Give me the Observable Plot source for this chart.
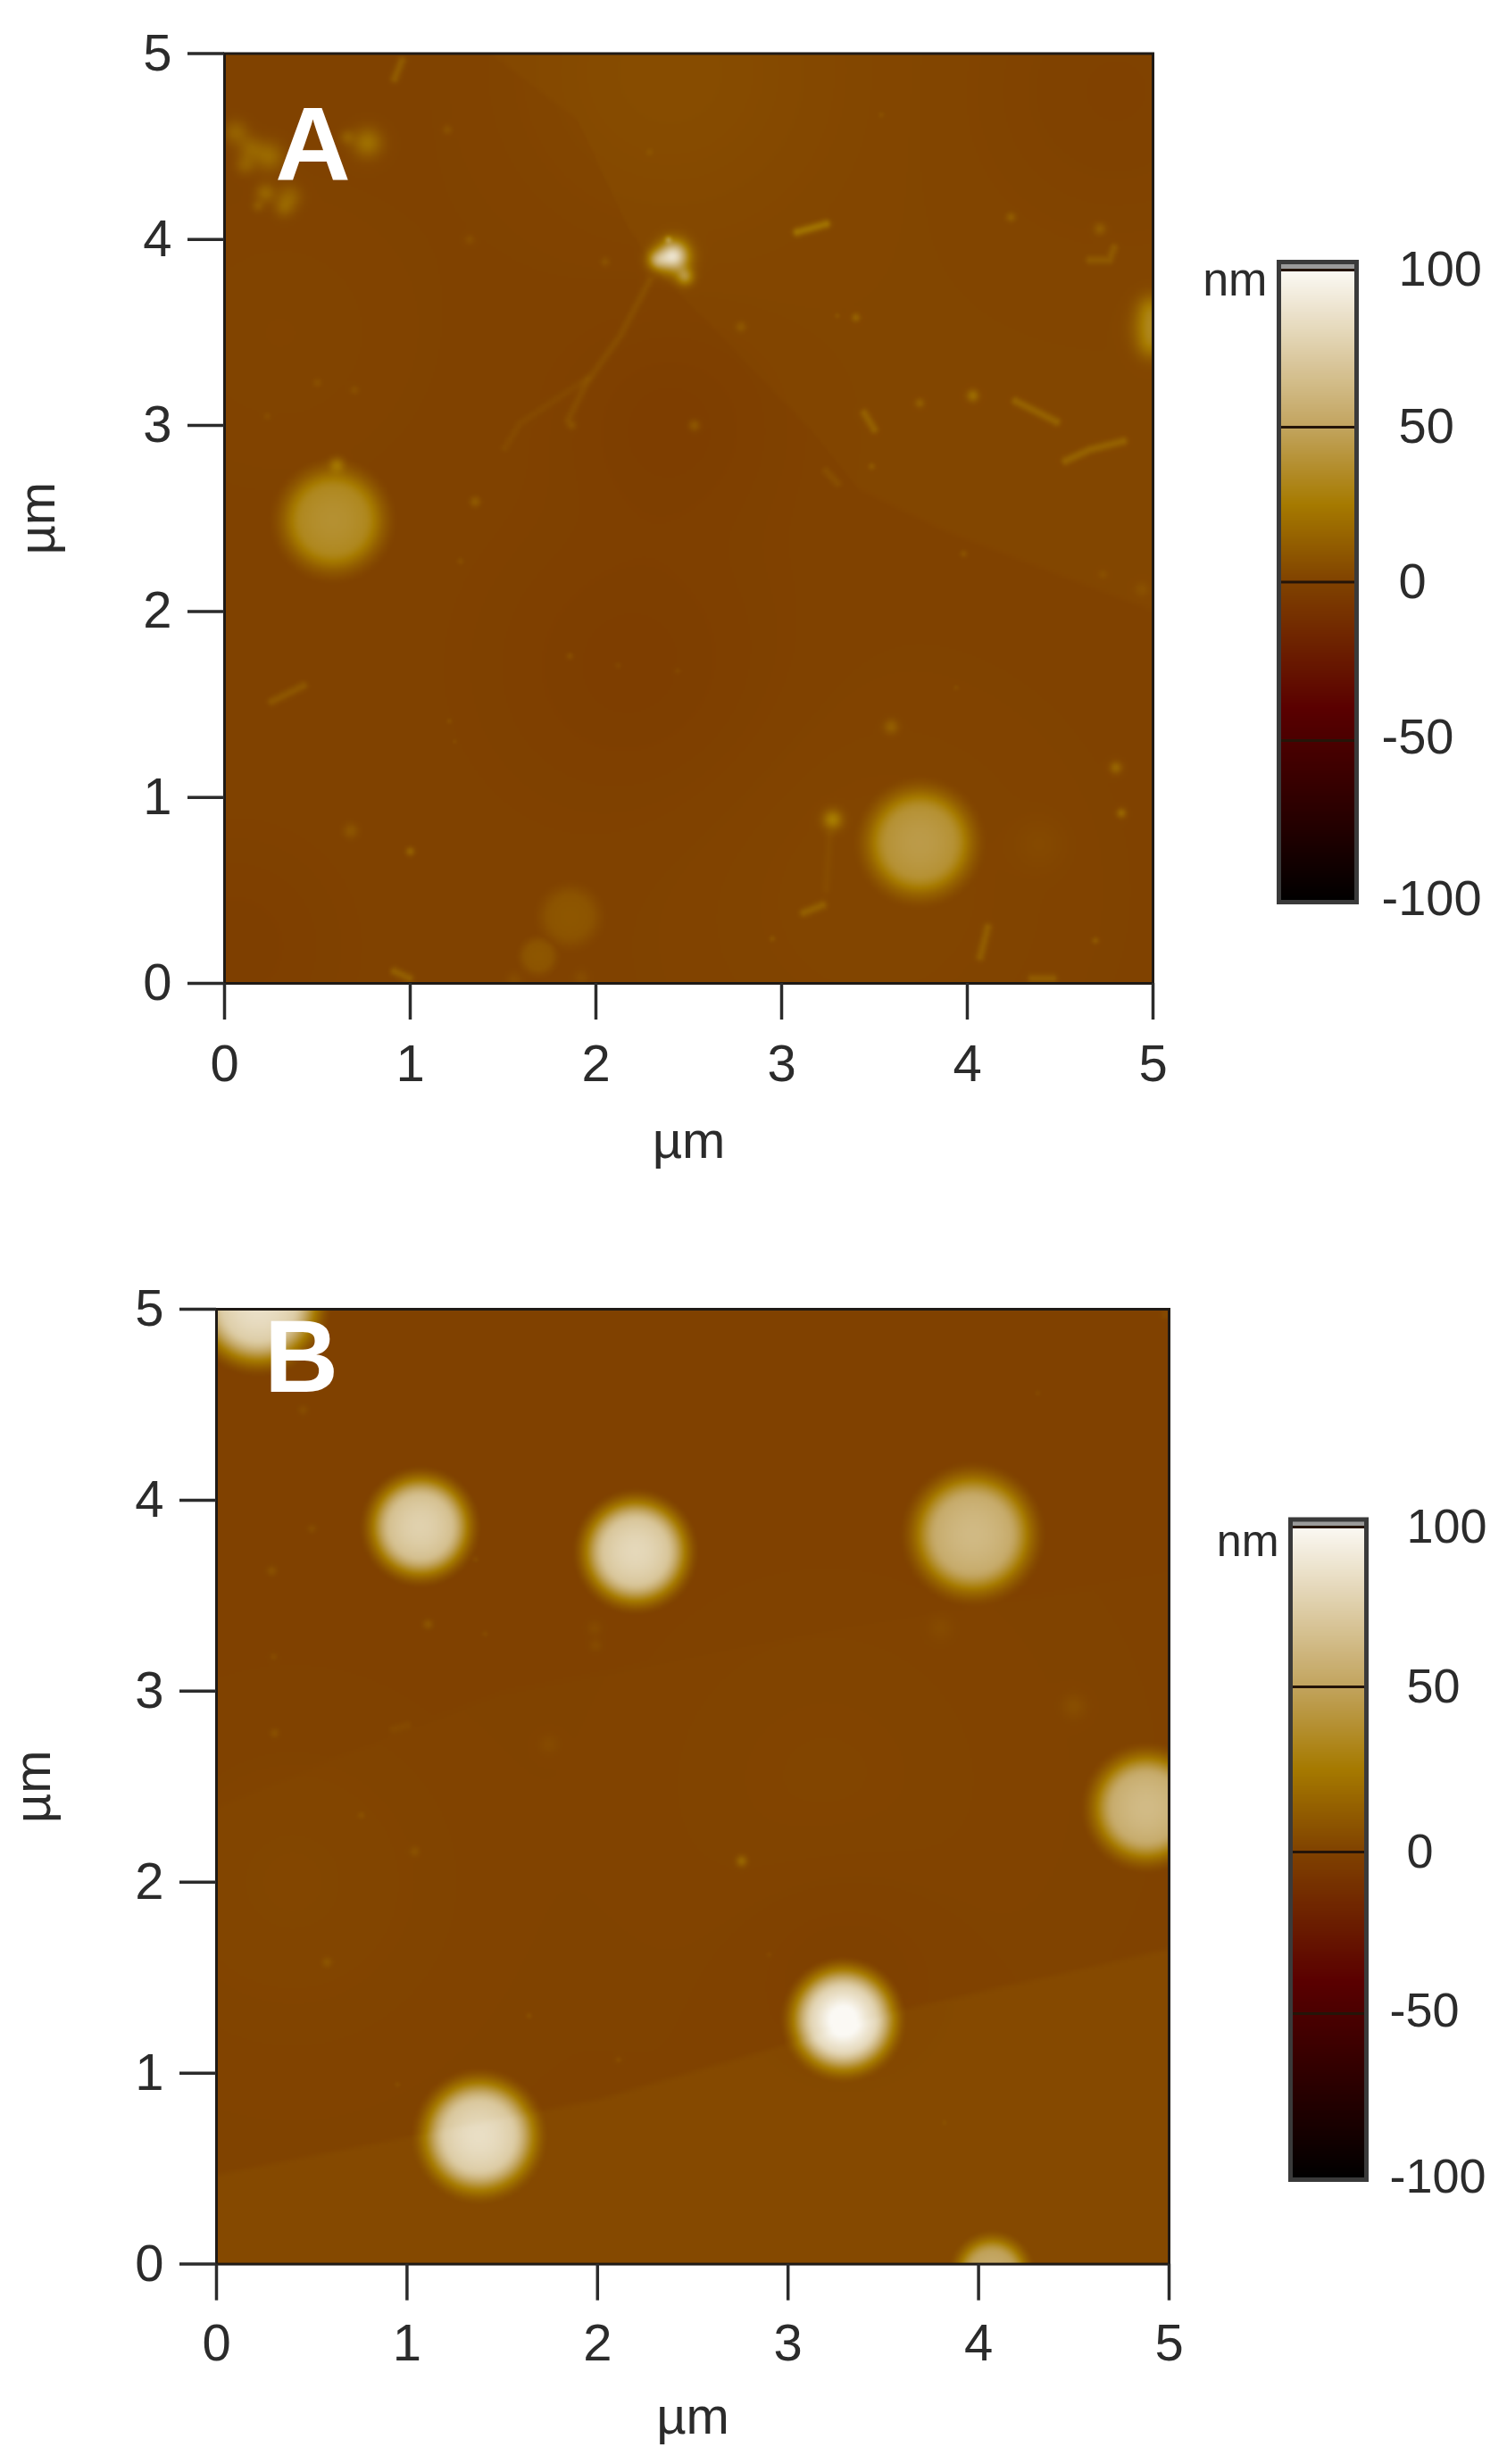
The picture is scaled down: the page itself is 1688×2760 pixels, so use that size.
<!DOCTYPE html>
<html><head><meta charset="utf-8">
<script src="https://cdn.jsdelivr.net/npm/d3@7"></script>
<script src="https://cdn.jsdelivr.net/npm/@observablehq/plot@0.6"></script>
<style>
html,body{margin:0;padding:0;background:#fff}
#page{position:relative;width:1688px;height:2760px;overflow:hidden}
#page svg{position:absolute;filter:blur(.6px)}
</style></head><body><div id="page"></div>
<script>
// Axis ticks (µm) and colour-bar ticks (nm)
const micronTicks = [0,1,2,3,4,5];
const nmTicks = [100,50,0,-50,-100];
// Colour map
const colorDomain = [-100,-40,0,25,50,100];
const colorRange = ["#000000","#5a0000","#804200","#a67a00","#c2a45e","#fbf9f4"];

// Panel A: large discs [x, y, radius, height nm]
const discsA = [[0.585,2.49,0.27,38],[3.745,0.757,0.28,43],[1.86,0.36,0.16,9],[1.69,0.146,0.1,9]];
// Panel A: small specks [x, y, radius, height nm]
const specksA = [
[.06,4.576,.05,16],[.14,4.49,.05,15],[.24,4.447,.06,20],[.11,4.40,.04,13],[.22,4.25,.04,17],[.35,4.23,.05,15],[.32,4.17,.04,13],[.18,4.18,.025,10],
[.77,4.52,.06,24],[.66,4.55,.03,12],[1.2,4.59,.02,7],
[2.417,3.91,.06,100],[2.33,3.89,.04,45],[2.48,3.80,.035,40],[2.39,4.0,.015,25],
[.605,2.79,.03,20],[1.35,2.59,.022,12],[2.53,3.0,.025,13],[1.87,3.0,.02,8],[2.78,3.53,.022,9],[1.32,4.0,.02,6],[2.05,3.88,.02,7],[2.29,4.47,.015,5],
[.5,3.23,.018,6],[.7,3.19,.018,6],[.23,3.05,.015,5],[1.27,2.27,.015,6],
[4.235,4.12,.02,12],[4.714,4.057,.025,12],[3.40,3.58,.018,14],[3.30,3.59,.012,6],[3.744,3.12,.02,12],[4.03,3.16,.025,20],[3.485,2.78,.015,9],[3.537,4.67,.012,5],
[3.59,1.38,.03,14],[4.8,1.16,.025,18],[4.83,.915,.02,18],[4.39,.75,.1,3],[1.86,1.76,.016,8],[2.12,1.71,.015,5],[1.21,1.41,.012,6],[1.24,1.30,.01,5],
[.68,.82,.03,10],[1.0,.709,.018,16],[1.56,.02,.03,5],[1.92,.03,.03,5],[4.69,.23,.015,10],[2.95,.24,.012,8],[3.98,2.31,.015,8],[3.94,1.59,.012,5],[2.44,1.68,.015,5],[4.73,2.2,.02,5],[4.94,2.12,.03,6],
[4.99,3.53,.07,30],[4.99,3.43,.06,22],[4.99,3.63,.06,22],[3.275,.88,.04,30]
];
// Panel A: thin fibres [height nm, points...]
const fibersA = [
[12,[.955,4.96],[.916,4.865]],
[6,[2.29,3.78],[2.13,3.48],[1.95,3.23],[1.85,3.03]],
[4,[1.95,3.25],[1.59,3.01],[1.51,2.88]],
[22,[3.084,4.04],[3.24,4.083]],
[10,[4.66,3.89],[4.765,3.89],[4.79,3.955]],
[13,[3.446,3.065],[3.498,2.98]],
[14,[4.261,3.13],[4.48,3.02]],
[14,[4.53,2.81],[4.66,2.87],[4.84,2.915]],
[6,[3.24,2.755],[3.30,2.69]],
[10,[.256,1.516],[.424,1.60]],
[14,[.916,.064],[.994,.028]],
[3,[3.26,.8],[3.24,.51]],
[13,[3.12,.38],[3.22,.42]],
[12,[4.07,.144],[4.11,.30]],
[12,[4.35,.025],[4.46,.025]]
];
// Panel A: terrace edge; the far side is raised
const stepA = [[1.43,5],[1.9,4.64],[2.18,4.05],[2.36,3.8],[2.85,3.29],[3.16,2.97],[3.42,2.65],[3.88,2.43],[4.53,2.18],[5,2.0]];
// Panel A: broad shading [x, y, radius, offset nm]
const patchesA = [[2.4,4.9,.8,3],[4.8,4.8,.7,-2],[2.4,3.0,.5,-2.5],[2.2,1.7,.7,-2.5],[.05,.2,.5,-2],[3.5,.5,1,1.5],[.3,3.5,.7,1]];

// Panel B
const discsB = [[1.07,3.86,.25,77],[2.2,3.73,.26,81],[3.97,3.82,.3,63],[4.88,2.39,.27,63],[3.29,1.28,.26,88],[1.38,.67,.28,81],[.22,5.03,.3,86],[4.07,-.05,.18,52]];
const specksB = [
[.454,4.47,.02,6],[.5,3.85,.018,6],[.29,3.63,.02,8],[1.11,3.35,.02,10],[1.41,3.3,.012,5],[1.985,3.33,.03,5],[1.99,3.24,.025,5],[.3,3.18,.015,5],[.305,2.78,.018,7],
[1.745,2.72,.04,4],[.76,2.35,.015,6],[1.04,2.16,.02,7],[1.36,3.69,.012,5],[2.756,2.11,.022,18],[.58,1.58,.02,8],[4.5,2.92,.05,6],[3.8,3.33,.05,4],[4.31,4.56,.012,4],
[3.82,.74,.01,4],[4.98,4.97,.02,5],[1.64,1.30,.012,6],[2.11,1.07,.012,6],[.95,.94,.012,5],[2.9,1.62,.012,4],[3.29,1.28,.09,25]
];
const fibersB = [[4,[.93,2.8],[1.0,2.82]]];
const stepB = [[0,.47],[2,.86],[3.63,1.34],[5,1.65]];
const stepB2 = [[0,2.4],[1.5,3.0],[3.5,3.37],[5,3.62]];
const patchesB = [[3.3,1.55,.5,-1.5],[3.2,2.5,.9,1],[.4,2,.8,1.5]];

const smooth = (a,b,v)=>{const t=Math.max(0,Math.min(1,(v-a)/(b-a)));return t*t*(3-2*t);};
const lineY = (pts,x)=>{
  for(let i=1;i<pts.length;i++) if(x<=pts[i][0]){
    const [a,b]=pts[i-1],[c,d]=pts[i];return b+(d-b)*(x-a)/(c-a);}
  return pts[pts.length-1][1];
};
const segDist=(x,y,a,b)=>{
  const dx=b[0]-a[0],dy=b[1]-a[1];
  const t=Math.max(0,Math.min(1,((x-a[0])*dx+(y-a[1])*dy)/(dx*dx+dy*dy)));
  return Math.hypot(x-a[0]-t*dx,y-a[1]-t*dy);
};
function surface(s){
  return (x,y)=>{
    let z=s.base;
    for(const [st,h,sign] of s.steps) z+=h*smooth(-.025,.025,sign*(y-lineY(st,x)));
    for(const [a,b,r,h] of s.patches){const d=((x-a)**2+(y-b)**2)/(r*r);z+=h*Math.exp(-d);}
    let top=0;
    for(const [a,b,r,h] of s.discs){
      if(Math.abs(x-a)>r*1.5||Math.abs(y-b)>r*1.5) continue;
      const t=Math.hypot(x-a,y-b)/r;
      top=Math.max(top,h*(.7+.3*(1-Math.min(t*t,1)))*smooth(1.32,.62,t));
    }
    for(const [a,b,r0,h0] of s.specks){
      const r=r0*1.3,h=h0*.82;
      if(Math.abs(x-a)>r*3||Math.abs(y-b)>r*3) continue;
      z+=h*Math.exp(-((x-a)**2+(y-b)**2)/(r*r));
    }
    for(const [h,...pts] of s.fibers){
      let d=1e9;
      for(let i=1;i<pts.length;i++) d=Math.min(d,segDist(x,y,pts[i-1],pts[i]));
      if(d<.08) z+=h*.85*Math.exp(-(d*d)/(.024*.024));
    }
    return z+top;
  };
}

const colorScale = {type:"linear",domain:colorDomain,range:colorRange,clamp:true};
const font = "'Liberation Sans',Arial,sans-serif";
const ink = "#2b2b2b";

function heightMap(o){
  const g=document.getElementById("page");
  const p=Plot.plot({
    width:o.width,height:o.height,
    marginLeft:o.left,marginRight:o.right,marginTop:o.top,marginBottom:o.bottom,
    style:{fontFamily:font,background:"transparent",overflow:"visible"},
    x:{domain:[0,5]},y:{domain:[0,5]},color:colorScale,
    marks:[
      Plot.raster({x1:0,y1:0,x2:5,y2:5,fill:surface(o.surface),pixelSize:2}),
      Plot.frame({stroke:"#1f1a16",strokeWidth:3}),
      Plot.axisX(micronTicks,{anchor:"bottom",tickSize:41,tickPadding:o.xpad,fontSize:o.fs,strokeWidth:3.5,color:ink,
        tickFormat:d=>String(d),label:"µm",labelAnchor:"center",labelArrow:"none",labelOffset:o.xlabOff}),
      Plot.axisY(micronTicks,{anchor:"left",tickSize:41,tickPadding:o.ypad,fontSize:o.fs,strokeWidth:3.5,color:ink,
        tickFormat:d=>String(d),label:"µm",labelAnchor:"center",labelArrow:"none",labelOffset:o.ylabOff}),
      Plot.text([o.letter],{x:o.lx,y:o.ly,text:d=>d,fill:"#fff",fontSize:o.lfs,fontWeight:"bold",fontFamily:font})
    ]
  });
  p.style.left=o.x+"px";p.style.top=o.y+"px";
  g.appendChild(p);
}

function colorBar(o){
  const g=document.getElementById("page");
  const toLocal=o.stops.map(v=>v-o.y);
  const p=Plot.plot({
    width:o.width,height:o.height,marginLeft:o.left,marginRight:o.right,
    marginTop:toLocal[5],marginBottom:o.height-toLocal[0],
    style:{fontFamily:font,background:"transparent",overflow:"visible"},
    x:{domain:[0,1],axis:null},
    y:{type:"linear",domain:[-100,-50,0,50,100,104],range:toLocal,axis:null},
    color:colorScale,
    marks:[
      Plot.rect([0],{x1:0,x2:1,y1:100,y2:104,fill:"#9a9a9a"}),
      Plot.raster({x1:0,x2:1,y1:-100,y2:100,fill:(x,y)=>y,pixelSize:2}),
      Plot.ruleY(nmTicks.filter(d=>d>-100),{x1:0,x2:1,stroke:"#241408",strokeWidth:3}),
      Plot.frame({stroke:"#3a3a3a",strokeWidth:5}),
      Plot.text(nmTicks.filter(d=>d>=0),{x:1,y:d=>d,text:d=>String(d),textAnchor:"start",dx:o.labx,dy:0,fontSize:o.fs,fill:ink}),
      Plot.text(nmTicks.filter(d=>d<0),{x:1,y:d=>d,text:d=>String(d),textAnchor:"start",dx:o.labx-19,dy:-3,fontSize:o.fs,fill:ink}),
      Plot.text(["nm"],{x:0,y:o.nmY,text:d=>d,textAnchor:"end",dx:-13,fontSize:o.fs*.93,fill:ink})
    ]
  });
  p.style.left=o.x+"px";p.style.top=o.y+"px";
  g.appendChild(p);
}

heightMap({x:0,y:0,width:1320,height:1340,left:251,right:29,top:59.5,bottom:239,fs:58,xpad:27,ypad:18,xlabOff:195,ylabOff:232,
  letter:"A",lx:.476,ly:4.5,lfs:117,
  surface:{base:0,steps:[[stepA,1.6,1]],patches:patchesA,discs:discsA,specks:specksA,fibers:fibersA}});
heightMap({x:0,y:1400,width:1340,height:1360,left:242,right:31,top:66,bottom:224.4,fs:58,xpad:26,ypad:18,xlabOff:190,ylabOff:228,
  letter:"B",lx:.445,ly:4.74,lfs:115,
  surface:{base:-.5,steps:[[stepB,3,-1],[stepB2,.7,-1]],patches:patchesB,discs:discsB,specks:specksB,fibers:fibersB}});
colorBar({x:1340,y:250,width:348,height:800,left:92,right:169,stops:[1010,829,651.5,478,302,293],fs:56,labx:47,nmY:96.6});
colorBar({x:1350,y:1660,width:338,height:800,left:95,right:158,stops:[2441,2255,2074,1889,1710,1701.5],fs:54,labx:45,nmY:95.5});
</script></body></html>
